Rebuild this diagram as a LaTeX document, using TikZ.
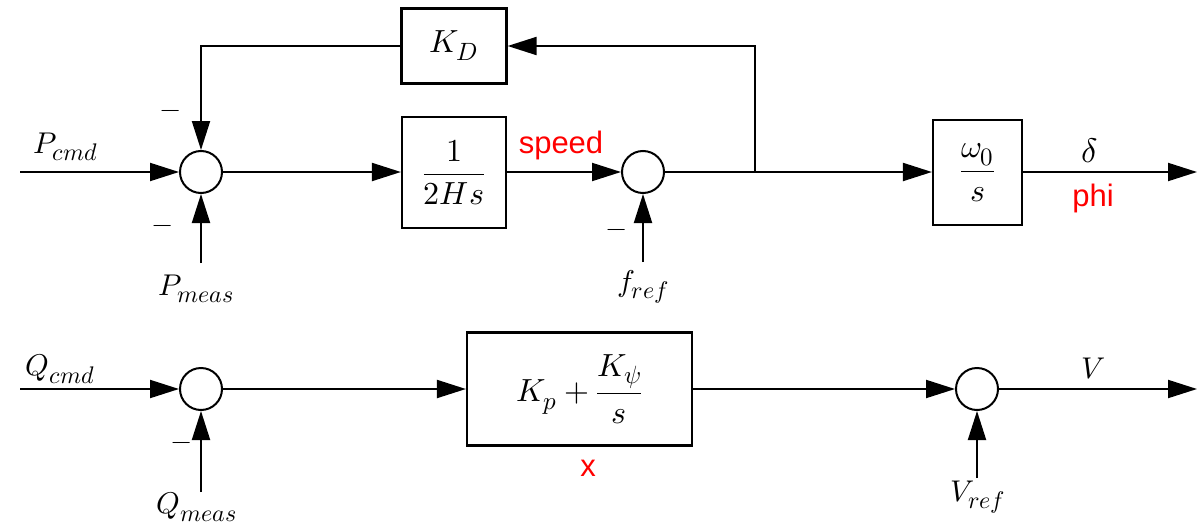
\documentclass[tikz,border=0pt]{standalone}
\usepackage{amsmath}
\usepackage{fontspec}
\usepackage{unicode-math}
\setmathfont{Latin Modern Math}
\DeclareMathSizes{30}{30}{24}{18}
\DeclareMathSizes{32}{32}{25}{19}
\newfontfamily\labelsans{Liberation Sans}
\usetikzlibrary{arrows.meta}
\begin{document}
\begin{tikzpicture}[x=1pt,y=-1pt,
  line width=2pt,
  sig/.style={-{Triangle[length=29pt,width=18pt]}},
  sumjn/.style={circle,draw,minimum size=42pt,inner sep=0pt},
  blk/.style={draw,rectangle,inner sep=0pt,line width=2.2pt,font=\fontsize{32}{36}\selectfont},
  lbl/.style={font=\fontsize{30}{34}\selectfont,inner sep=0pt},
  redlbl/.style={text=red,font=\labelsans\fontsize{31}{36}\selectfont,inner sep=0pt},
  neg/.style={font=\fontsize{26}{30}\selectfont,inner sep=0pt}
]
\useasboundingbox (0,0) rectangle (1198,527);
% row 1
\node[sumjn] (s1) at (201,172) {};
\node[sumjn] (s2) at (643,172) {};
\node[blk,minimum width=105pt,minimum height=75pt] (kd) at (454,46) {$K_D$};
\node[blk,minimum width=104pt,minimum height=111pt] (ih) at (454,172.5) {$\dfrac{1}{2Hs}$};
\node[blk,minimum width=89pt,minimum height=105pt] (w0) at (977.5,172.5) {$\dfrac{\omega_0}{s}$};
\coordinate (pin) at (20,172);
\coordinate (pmeas) at (201,263);
\coordinate (fref) at (643,262);
\coordinate (br) at (755,172);
\coordinate (out1) at (1197,172);
\draw[sig] (pin) -- (s1);
\draw[sig] (pmeas) -- (s1);
\draw[sig] (s1) -- (s1 -| ih.west);
\draw[sig] (ih.east |- s2) -- (s2);
\draw[sig] (fref) -- (s2);
\draw[sig] (s2) -- (s2 -| w0.west);
\draw[sig] (br) |- (kd);
\draw[sig] (kd) -| (s1);
\draw[sig] (w0.east |- out1) -- (out1);
\node[lbl] (lpcmd) at (66,147) {$P_{cmd}$};
\node[neg] (m1) at (171,114) {$-$};
\node[neg] (m2) at (163,229) {$-$};
\node[lbl] (lpmeas) at (196,289) {$P_{meas}$};
\node[redlbl] (lspeed) at (561,145) {speed};
\node[lbl] (lfref) at (643,287) {$f_{ref}$};
\node[neg] (m3) at (617,233) {$-$};
\node[lbl,font=\fontsize{34}{38}\selectfont] (ldelta) at (1090,151) {$\delta$};
\node[redlbl] (lphi) at (1093,198) {phi};
% row 2
\node[sumjn] (s3) at (201,389) {};
\node[sumjn] (s4) at (977,389) {};
\node[blk,minimum width=225pt,minimum height=113pt] (pi) at (579.5,389) {$K_p+\dfrac{K_\psi}{s}$};
\coordinate (qin) at (20,389);
\coordinate (qmeas) at (201,492);
\coordinate (vref) at (977,478);
\coordinate (out2) at (1197,389);
\draw[sig] (qin) -- (s3);
\draw[sig] (qmeas) -- (s3);
\draw[sig] (s3) -- (pi);
\draw[sig] (pi) -- (s4);
\draw[sig] (vref) -- (s4);
\draw[sig] (s4) -- (out2);
\node[lbl] (lqcmd) at (60,369) {$Q_{cmd}$};
\node[neg] (m4) at (182,446) {$-$};
\node[lbl] (lqmeas) at (197,507) {$Q_{meas}$};
\node[redlbl] (lx) at (588,468) {x};
\node[lbl] (lvref) at (978,497) {$V_{ref}$};
\node[lbl] (lv) at (1093,369) {$V$};
\end{tikzpicture}
\end{document}
